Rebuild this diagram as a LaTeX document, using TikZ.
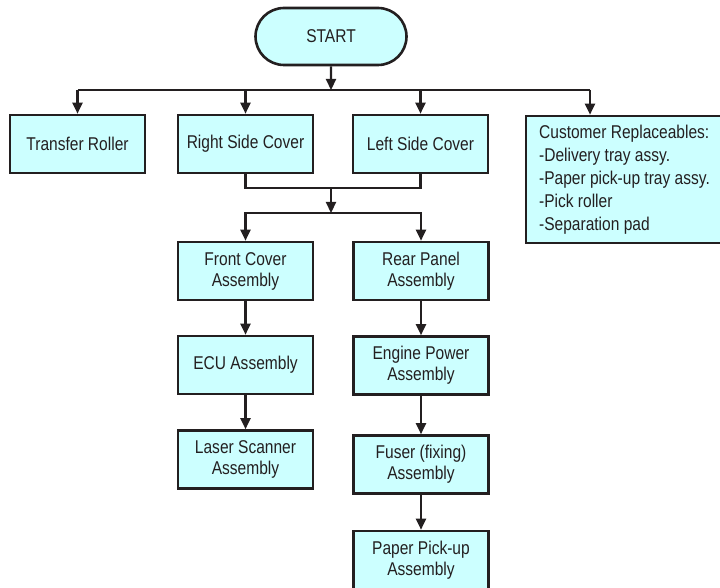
\documentclass[tikz,border=0pt]{standalone}
\usepackage{fontspec}
\setmainfont[FakeStretch=0.84]{Liberation Sans}
\usetikzlibrary{arrows.meta, positioning, shapes.misc}
\definecolor{boxfill}{HTML}{CCFFFF}
\definecolor{inkline}{HTML}{231F20}

\begin{document}
\begin{tikzpicture}[
  x=1pt, y=-1pt,
  box/.style={draw=inkline, fill=boxfill, line width=2.6pt, text=inkline,
              minimum width=135pt, minimum height=58pt, align=center,
              inner sep=2pt, font=\fontsize{18.5}{21}\selectfont},
  flow/.style={draw=inkline, line width=2.2pt},
  >={Triangle[length=11pt,width=10pt]}
]
  \useasboundingbox (0,0) rectangle (720,588);

  \node[box, rounded rectangle, minimum width=155pt, minimum height=57pt] (start) at (331,36.5) {START};

  % first row
  \node[box] (trans) at (77.5,144)  {Transfer Roller};
  \node[box] (rside) at (245.5,144) {Right Side Cover};
  \node[box] (lside) at (420.5,144) {Left Side Cover};
  \node[box, align=left, minimum width=197pt, minimum height=127pt, inner xsep=12pt,
        font=\fontsize{18.5}{23}\selectfont] (cust) at (624.5,179.5)
    {Customer Replaceables:\\-Delivery tray assy.\\-Paper pick-up tray assy.\\-Pick roller\\-Separation pad};

  % two columns
  \node[box] (front) at (245.5,271)   {Front Cover\\Assembly};
  \node[box] (ecu)   at (245.5,365)   {ECU Assembly};
  \node[box] (laser) at (245.5,459.5) {Laser Scanner\\Assembly};
  \node[box] (rear)  at (421,271)     {Rear Panel\\Assembly};
  \node[box] (eng)   at (421,365.5)   {Engine Power\\Assembly};
  \node[box] (fuser) at (421,464.5)   {Fuser (fixing)\\Assembly};
  \node[box] (paper) at (421,560)     {Paper Pick-up\\Assembly};

  \coordinate (bus)  at (331,90);
  \coordinate (join) at (331,188);
  \coordinate (bus2) at (331,213);
  \coordinate (cin)  at (590,90);

  \draw[flow, ->] (start) -- (bus);
  \draw[flow] (bus -| trans) -- (cin);
  \draw[flow, ->] (bus -| trans) -- (trans);
  \draw[flow, ->] (bus -| rside) -- (rside);
  \draw[flow, ->] (bus -| lside) -- (lside);
  \draw[flow, ->] (cin) -- (cin |- cust.north);

  \draw[flow] (rside) |- (join) -| (lside);
  \draw[flow, ->] (join) -- (bus2);
  \draw[flow, ->] (bus2) -| (front);
  \draw[flow, ->] (bus2) -| (rear);

  \draw[flow, ->] (front) -- (ecu);
  \draw[flow, ->] (ecu) -- (laser);
  \draw[flow, ->] (rear) -- (eng);
  \draw[flow, ->] (eng) -- (fuser);
  \draw[flow, ->] (fuser) -- (paper);
\end{tikzpicture}
\end{document}
